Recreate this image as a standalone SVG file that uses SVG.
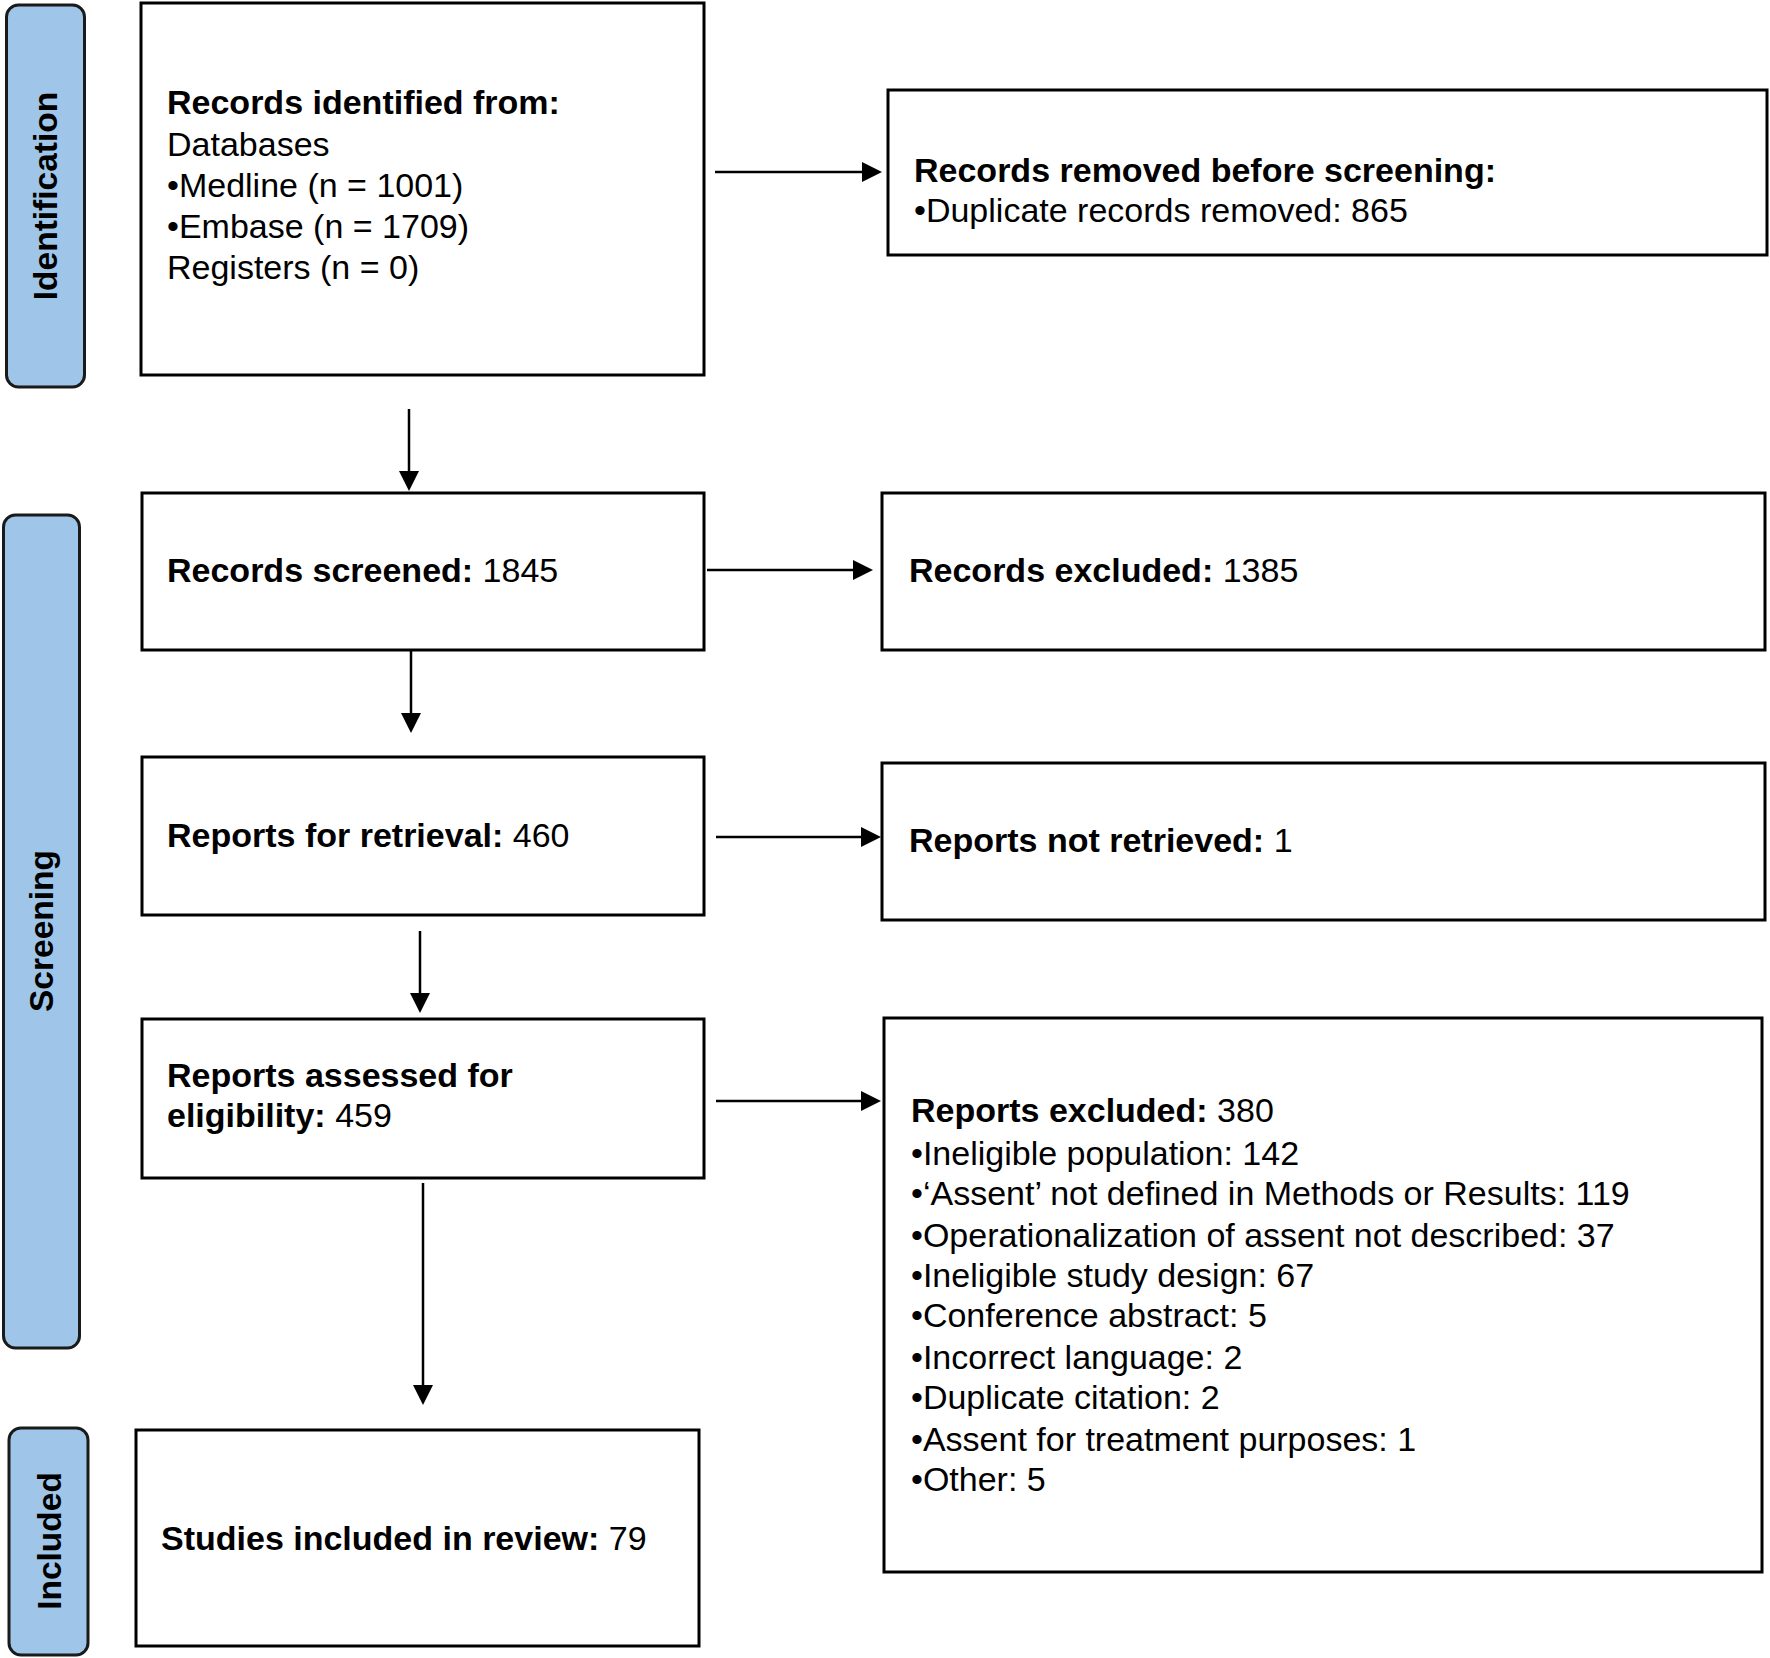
<svg xmlns="http://www.w3.org/2000/svg" width="1770" height="1658" viewBox="0 0 1770 1658">
<defs>
<style>
.box{fill:#fff;stroke:#000;stroke-width:3}
.bar{fill:#9fc5e8;stroke:#1a1a1a;stroke-width:3}
.t{font-family:"Liberation Sans",Arial,Helvetica,sans-serif;font-size:34px;fill:#000}
.b{font-weight:bold}
.side{font-family:"Liberation Sans",Arial,Helvetica,sans-serif;font-size:33.5px;font-weight:bold;fill:#000;text-anchor:middle}
.conn line{stroke:#000;stroke-width:2.5;marker-end:url(#ah)}
</style>
<marker id="ah" markerUnits="userSpaceOnUse" markerWidth="20" markerHeight="20" viewBox="0 0 20 20" refX="10" refY="10" orient="auto">
<path d="M0,0 L20,10 L0,20 z" fill="#000"/>
</marker>
</defs>
<rect width="1770" height="1658" fill="#fff"/>

<g id="bar-identification">
<rect class="bar" x="6.5" y="5" width="78" height="382" rx="12"/>
<text class="side" transform="translate(57,196) rotate(-90)">Identification</text>
</g>
<g id="bar-screening">
<rect class="bar" x="3.5" y="515" width="76" height="833" rx="12"/>
<text class="side" transform="translate(53,931) rotate(-90)">Screening</text>
</g>
<g id="bar-included">
<rect class="bar" x="9" y="1428" width="79" height="227" rx="12"/>
<text class="side" transform="translate(61,1541) rotate(-90)">Included</text>
</g>

<g id="records-identified">
<rect class="box" x="141" y="3" width="563" height="372"/>
<text class="t" x="167" y="114"><tspan class="b">Records identified from:</tspan></text>
<text class="t" x="167" y="155.5">Databases</text>
<text class="t" x="167" y="197">•Medline (n = 1001)</text>
<text class="t" x="167" y="238">•Embase (n = 1709)</text>
<text class="t" x="167" y="279">Registers (n = 0)</text>
</g>

<g id="records-removed">
<rect class="box" x="888" y="90" width="879" height="165"/>
<text class="t" x="914" y="182"><tspan class="b">Records removed before screening:</tspan></text>
<text class="t" x="914" y="222">•Duplicate records removed: 865</text>
</g>

<g id="records-screened">
<rect class="box" x="142" y="493" width="562" height="157"/>
<text class="t" x="167" y="582"><tspan class="b">Records screened:</tspan> 1845</text>
</g>

<g id="records-excluded">
<rect class="box" x="882" y="493" width="883" height="157"/>
<text class="t" x="909" y="582"><tspan class="b">Records excluded:</tspan> 1385</text>
</g>

<g id="reports-retrieval">
<rect class="box" x="142" y="757" width="562" height="158"/>
<text class="t" x="167" y="847"><tspan class="b">Reports for retrieval:</tspan> 460</text>
</g>

<g id="reports-not-retrieved">
<rect class="box" x="882" y="763" width="883" height="157"/>
<text class="t" x="909" y="852"><tspan class="b">Reports not retrieved:</tspan> 1</text>
</g>

<g id="reports-assessed">
<rect class="box" x="142" y="1019" width="562" height="159"/>
<text class="t" x="167" y="1087"><tspan class="b">Reports assessed for</tspan></text>
<text class="t" x="167" y="1127"><tspan class="b">eligibility:</tspan> 459</text>
</g>

<g id="reports-excluded">
<rect class="box" x="884" y="1018" width="878" height="554"/>
<text class="t" x="911" y="1122"><tspan class="b">Reports excluded:</tspan> 380</text>
<text class="t" x="911" y="1165">•Ineligible population: 142</text>
<text class="t" x="911" y="1205">•‘Assent’ not defined in Methods or Results: 119</text>
<text class="t" x="911" y="1247">•Operationalization of assent not described: 37</text>
<text class="t" x="911" y="1287">•Ineligible study design: 67</text>
<text class="t" x="911" y="1327">•Conference abstract: 5</text>
<text class="t" x="911" y="1369">•Incorrect language: 2</text>
<text class="t" x="911" y="1409">•Duplicate citation: 2</text>
<text class="t" x="911" y="1451">•Assent for treatment purposes: 1</text>
<text class="t" x="911" y="1491">•Other: 5</text>
</g>

<g id="studies-included">
<rect class="box" x="136" y="1430" width="563" height="216"/>
<text class="t" x="161" y="1550"><tspan class="b">Studies included in review:</tspan> 79</text>
</g>

<g id="connectors" class="conn">
<line x1="715" y1="172" x2="872" y2="172"/>
<line x1="409" y1="409" x2="409" y2="481"/>
<line x1="707" y1="570" x2="863" y2="570"/>
<line x1="411" y1="650" x2="411" y2="723"/>
<line x1="716" y1="837" x2="871" y2="837"/>
<line x1="420" y1="931" x2="420" y2="1003"/>
<line x1="716" y1="1101" x2="871" y2="1101"/>
<line x1="423" y1="1183" x2="423" y2="1395"/>
</g>
</svg>
